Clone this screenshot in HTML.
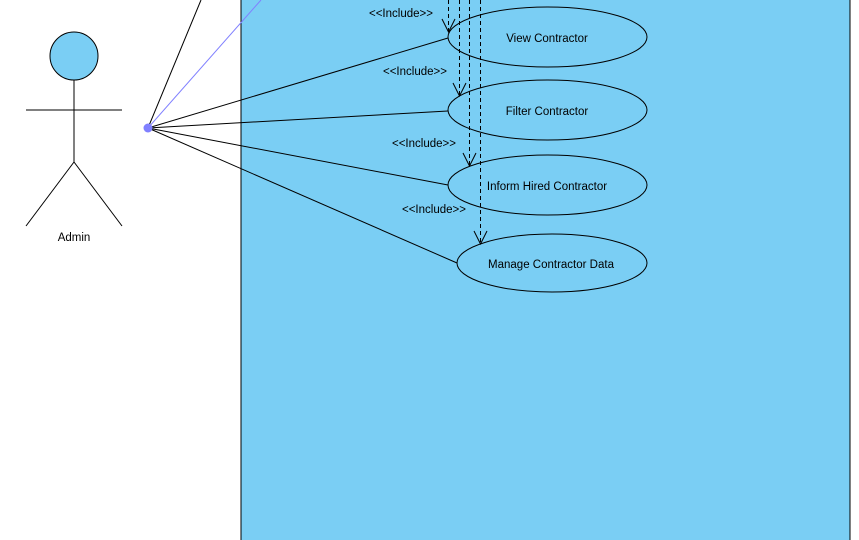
<!DOCTYPE html>
<html><head><meta charset="utf-8"><style>
html,body{margin:0;padding:0;background:#fff;}
svg{display:block;}
text{font-family:"Liberation Sans",sans-serif;font-size:11.5px;fill:#000;}
</style></head><body>
<svg width="859" height="540" viewBox="0 0 859 540" xmlns="http://www.w3.org/2000/svg">
<rect x="241" y="-5" width="609" height="550" fill="#7acef4" stroke="#000" stroke-width="1"/>
<circle cx="74" cy="56" r="24" fill="#7acef4" stroke="#000" stroke-width="1"/>
<line x1="74" y1="80" x2="74" y2="162" stroke="#000"/>
<line x1="26" y1="110" x2="122" y2="110" stroke="#000"/>
<line x1="74" y1="162" x2="26" y2="226" stroke="#000"/>
<line x1="74" y1="162" x2="122" y2="226" stroke="#000"/>
<text x="74" y="241" text-anchor="middle">Admin</text>
<line x1="148" y1="128" x2="201" y2="0" stroke="#000"/>
<line x1="148" y1="128" x2="261" y2="0" stroke="#8080ff"/>
<line x1="148" y1="128" x2="448" y2="38" stroke="#000"/>
<line x1="148" y1="128" x2="448" y2="111" stroke="#000"/>
<line x1="148" y1="128" x2="448" y2="185" stroke="#000"/>
<line x1="148" y1="128" x2="457" y2="263" stroke="#000"/>
<circle cx="148" cy="128" r="4.5" fill="#8080ff"/>
<ellipse cx="547.5" cy="37" rx="99.5" ry="30" fill="#7acef4" stroke="#000"/>
<ellipse cx="547.5" cy="110" rx="99.5" ry="30" fill="#7acef4" stroke="#000"/>
<ellipse cx="547.5" cy="185" rx="99.5" ry="30" fill="#7acef4" stroke="#000"/>
<ellipse cx="552" cy="263" rx="95" ry="29" fill="#7acef4" stroke="#000"/>
<text x="547" y="42" text-anchor="middle">View Contractor</text>
<text x="547" y="115" text-anchor="middle">Filter Contractor</text>
<text x="547" y="190" text-anchor="middle">Inform Hired Contractor</text>
<text x="551" y="268" text-anchor="middle">Manage Contractor Data</text>
<g stroke="#000" fill="none" stroke-dasharray="4,3">
<line x1="448.5" y1="0" x2="448.5" y2="32"/>
<line x1="459.5" y1="0" x2="459.5" y2="96"/>
<line x1="469.5" y1="0" x2="469.5" y2="166"/>
<line x1="480.5" y1="0" x2="480.5" y2="244"/>
</g>
<g stroke="#000" fill="none">
<polyline points="442,19 448.5,32 455,19"/>
<polyline points="453,83 459.5,96 466,83"/>
<polyline points="463,153 469.5,166 476,153"/>
<polyline points="474,231 480.5,244 487,231"/>
</g>
<text x="369" y="17">&lt;&lt;Include&gt;&gt;</text>
<text x="383" y="75">&lt;&lt;Include&gt;&gt;</text>
<text x="392" y="147">&lt;&lt;Include&gt;&gt;</text>
<text x="402" y="213">&lt;&lt;Include&gt;&gt;</text>
</svg>
</body></html>
